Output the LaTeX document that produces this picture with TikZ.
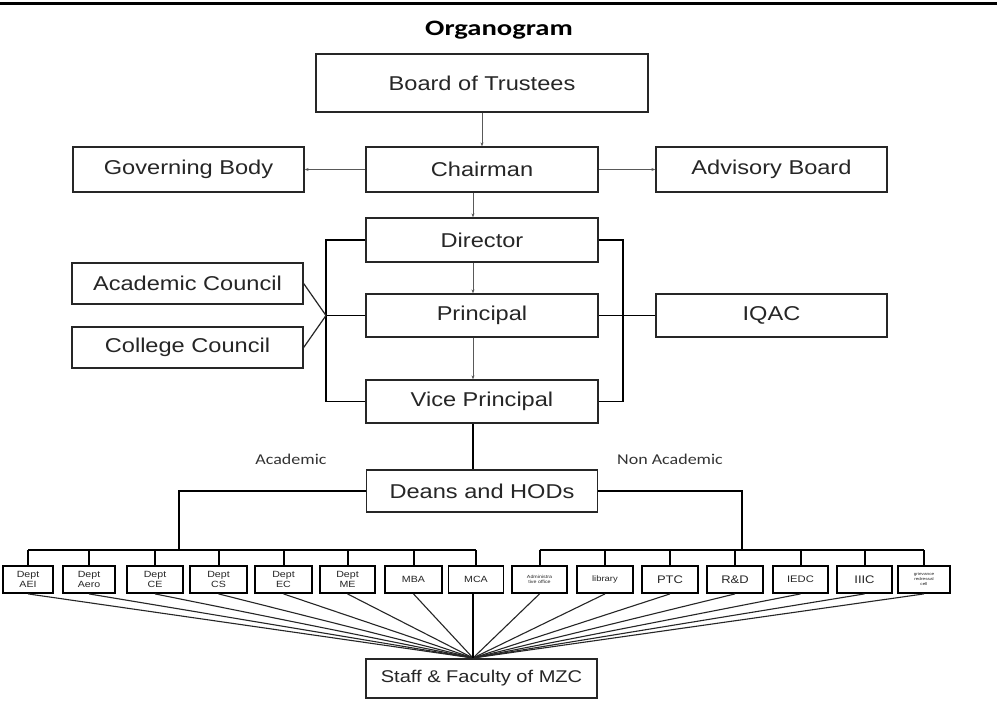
\documentclass[tikz,border=0pt]{standalone}
\usepackage{fontspec}
\setmainfont{Liberation Sans}
\newfontfamily\boxf[FakeStretch=1.18]{Liberation Sans}
\newfontfamily\calf[FakeStretch=1.2]{Carlito}
\newfontfamily\titlef[FakeStretch=1.3]{Carlito}
\usetikzlibrary{arrows.meta}
\begin{document}
\begin{tikzpicture}[x=1pt,y=-1pt,
 mbox/.style={draw=black!85, line width=1.3pt, inner sep=0pt, text=black!85, font=\boxf\fontsize{20}{24}\selectfont},
 sbox/.style={draw=black, line width=1.8pt, inner sep=0pt, minimum height=27pt, text=black!85, align=center, font=\boxf\fontsize{9}{10}\selectfont},
 arr/.style={draw=black!65, line width=0.8pt, -{Stealth[length=4pt,width=3pt]}},
 brk/.style={draw=black, line width=1.6pt},
 busl/.style={draw=black, line width=1.5pt},
 drop/.style={draw=black, line width=2pt},
 fan/.style={draw=black!85, line width=1.1pt},
 lbl/.style={text=black!80, font=\calf\fontsize{15}{18}\selectfont},
]
\useasboundingbox (0,0) rectangle (997,701);
\fill[white] (0,0) rectangle (997,701);
\draw[line width=3pt] (0,4) -- (997,4);

\node[font=\titlef\bfseries\fontsize{22}{26}\selectfont] (title) at (499,30) {Organogram};

% main boxes
\node[mbox, minimum width=332pt, minimum height=58pt] (board) at (482,83) {Board of Trustees};
\node[mbox, minimum width=232pt, minimum height=45pt] (chair) at (482,169.5) {Chairman};
\node[mbox, minimum width=231pt, minimum height=45pt] (gov) at (188.5,169.5) {Governing Body};
\node[mbox, minimum width=231pt, minimum height=45pt] (adv) at (771.5,169.5) {Advisory Board};
\node[mbox, minimum width=232pt, minimum height=44pt] (dir) at (482,240) {Director};
\node[mbox, minimum width=231pt, minimum height=41pt] (acad) at (187.5,283.5) {Academic Council};
\node[mbox, minimum width=231pt, minimum height=41pt] (coll) at (187.5,347.5) {College Council};
\node[mbox, minimum width=232pt, minimum height=43pt] (prin) at (482,315.5) {Principal};
\node[mbox, minimum width=231pt, minimum height=43pt] (iqac) at (771.5,315.5) {IQAC};
\node[mbox, minimum width=232pt, minimum height=43pt] (vp) at (482,401.5) {Vice Principal};
\node[mbox, minimum width=231pt, minimum height=42pt] (deans) at (482,491) {Deans and HODs};
\node[mbox, minimum width=231pt, minimum height=39pt, font=\boxf\fontsize{17}{20}\selectfont] (staff) at (481.5,678.5) {Staff \& Faculty of MZC};

\node[lbl] (lac) at (291,459) {Academic};
\node[lbl] (lnac) at (670,459) {Non Academic};

% small boxes
\node[sbox, minimum width=50pt] (aei) at (28,579.5) {Dept\\AEI};
\node[sbox, minimum width=52pt] (aero) at (89,579.5) {Dept\\Aero};
\node[sbox, minimum width=56pt] (ce) at (155,579.5) {Dept\\CE};
\node[sbox, minimum width=57pt] (cs) at (218.5,579.5) {Dept\\CS};
\node[sbox, minimum width=57pt] (ec) at (283.5,579.5) {Dept\\EC};
\node[sbox, minimum width=55pt] (me) at (347.5,579.5) {Dept\\ME};
\node[sbox, minimum width=57pt] (mba) at (413.5,579.5) {MBA};
\node[sbox, minimum width=55pt] (mca) at (476,579.5) {MCA};
\node[sbox, minimum width=55pt, font=\boxf\fontsize{4.5}{5.5}\selectfont] (adm) at (539.5,579.5) {Administra\\tive office};
\node[sbox, minimum width=56pt, font=\boxf\fontsize{8}{10}\selectfont] (lib) at (605,579.5) {library};
\node[sbox, minimum width=56pt, font=\boxf\fontsize{11}{13}\selectfont] (ptc) at (670,579.5) {PTC};
\node[sbox, minimum width=56pt, font=\boxf\fontsize{11}{13}\selectfont] (rd) at (735,579.5) {R\&D};
\node[sbox, minimum width=55pt, font=\boxf\fontsize{9.5}{11}\selectfont] (iedc) at (800.5,579.5) {IEDC};
\node[sbox, minimum width=55pt, font=\boxf\fontsize{11}{13}\selectfont] (iiic) at (864.5,579.5) {IIIC};
\node[sbox, minimum width=52pt, font=\boxf\fontsize{4}{5}\selectfont] (griev) at (924,579.5) {grievance\\redressal\\cell};

% helper coordinates
\coordinate (ax) at (473,0);
\coordinate (lb) at (326,0);
\coordinate (rb) at (623,0);
\coordinate (bus) at (0,550);
\coordinate (abus) at (179,550);
\coordinate (nbus) at (742,550);
\coordinate (conv) at (473,658);

% arrows
\draw[arr] (board.south) -- (chair.north);
\draw[arr] (chair.west) -- (gov.east);
\draw[arr] (chair.east) -- (adv.west);
\draw[arr] (chair.south -| ax) -- (dir.north -| ax);
\draw[arr] (dir.south -| ax) -- (prin.north -| ax);
\draw[arr] (prin.south -| ax) -- (vp.north -| ax);

% brackets
\draw[brk] (dir.west) -- (dir.west -| lb) -- (vp.west -| lb) -- (vp.west);
\draw[brk] (prin.west) -- (prin.west -| lb);
\draw[draw=black!85, line width=1.2pt] (acad.east) -- (prin.west -| lb) -- (coll.east);
\draw[brk, line width=1.3pt] (dir.east) -- (dir.east -| rb) -- (vp.east -| rb) -- (vp.east);
\draw[brk] (prin.east) -- (iqac.west);

% vp to deans
\draw[drop] (vp.south -| ax) -- (deans.north -| ax);

% deans to buses
\draw[busl] (deans.west) -| (abus);
\draw[busl] (deans.east) -| (nbus);
\draw[busl] (aei.north |- bus) -- (mca.north |- bus);
\draw[busl] (adm.north |- bus) -- (griev.north |- bus);
\foreach \n in {aei,aero,ce,cs,ec,me,mba,mca,adm,lib,ptc,rd,iedc,iiic,griev}
  \draw[drop] (\n.north) -- (\n.north |- bus);

% fan to staff
\foreach \n in {aei,aero,ce,cs,ec,me,mba,adm,lib,ptc,rd,iedc,iiic,griev}
  \draw[fan] (\n.south) -- (conv);
\draw[drop] (mca.south -| conv) -- (conv);
\end{tikzpicture}
\end{document}
